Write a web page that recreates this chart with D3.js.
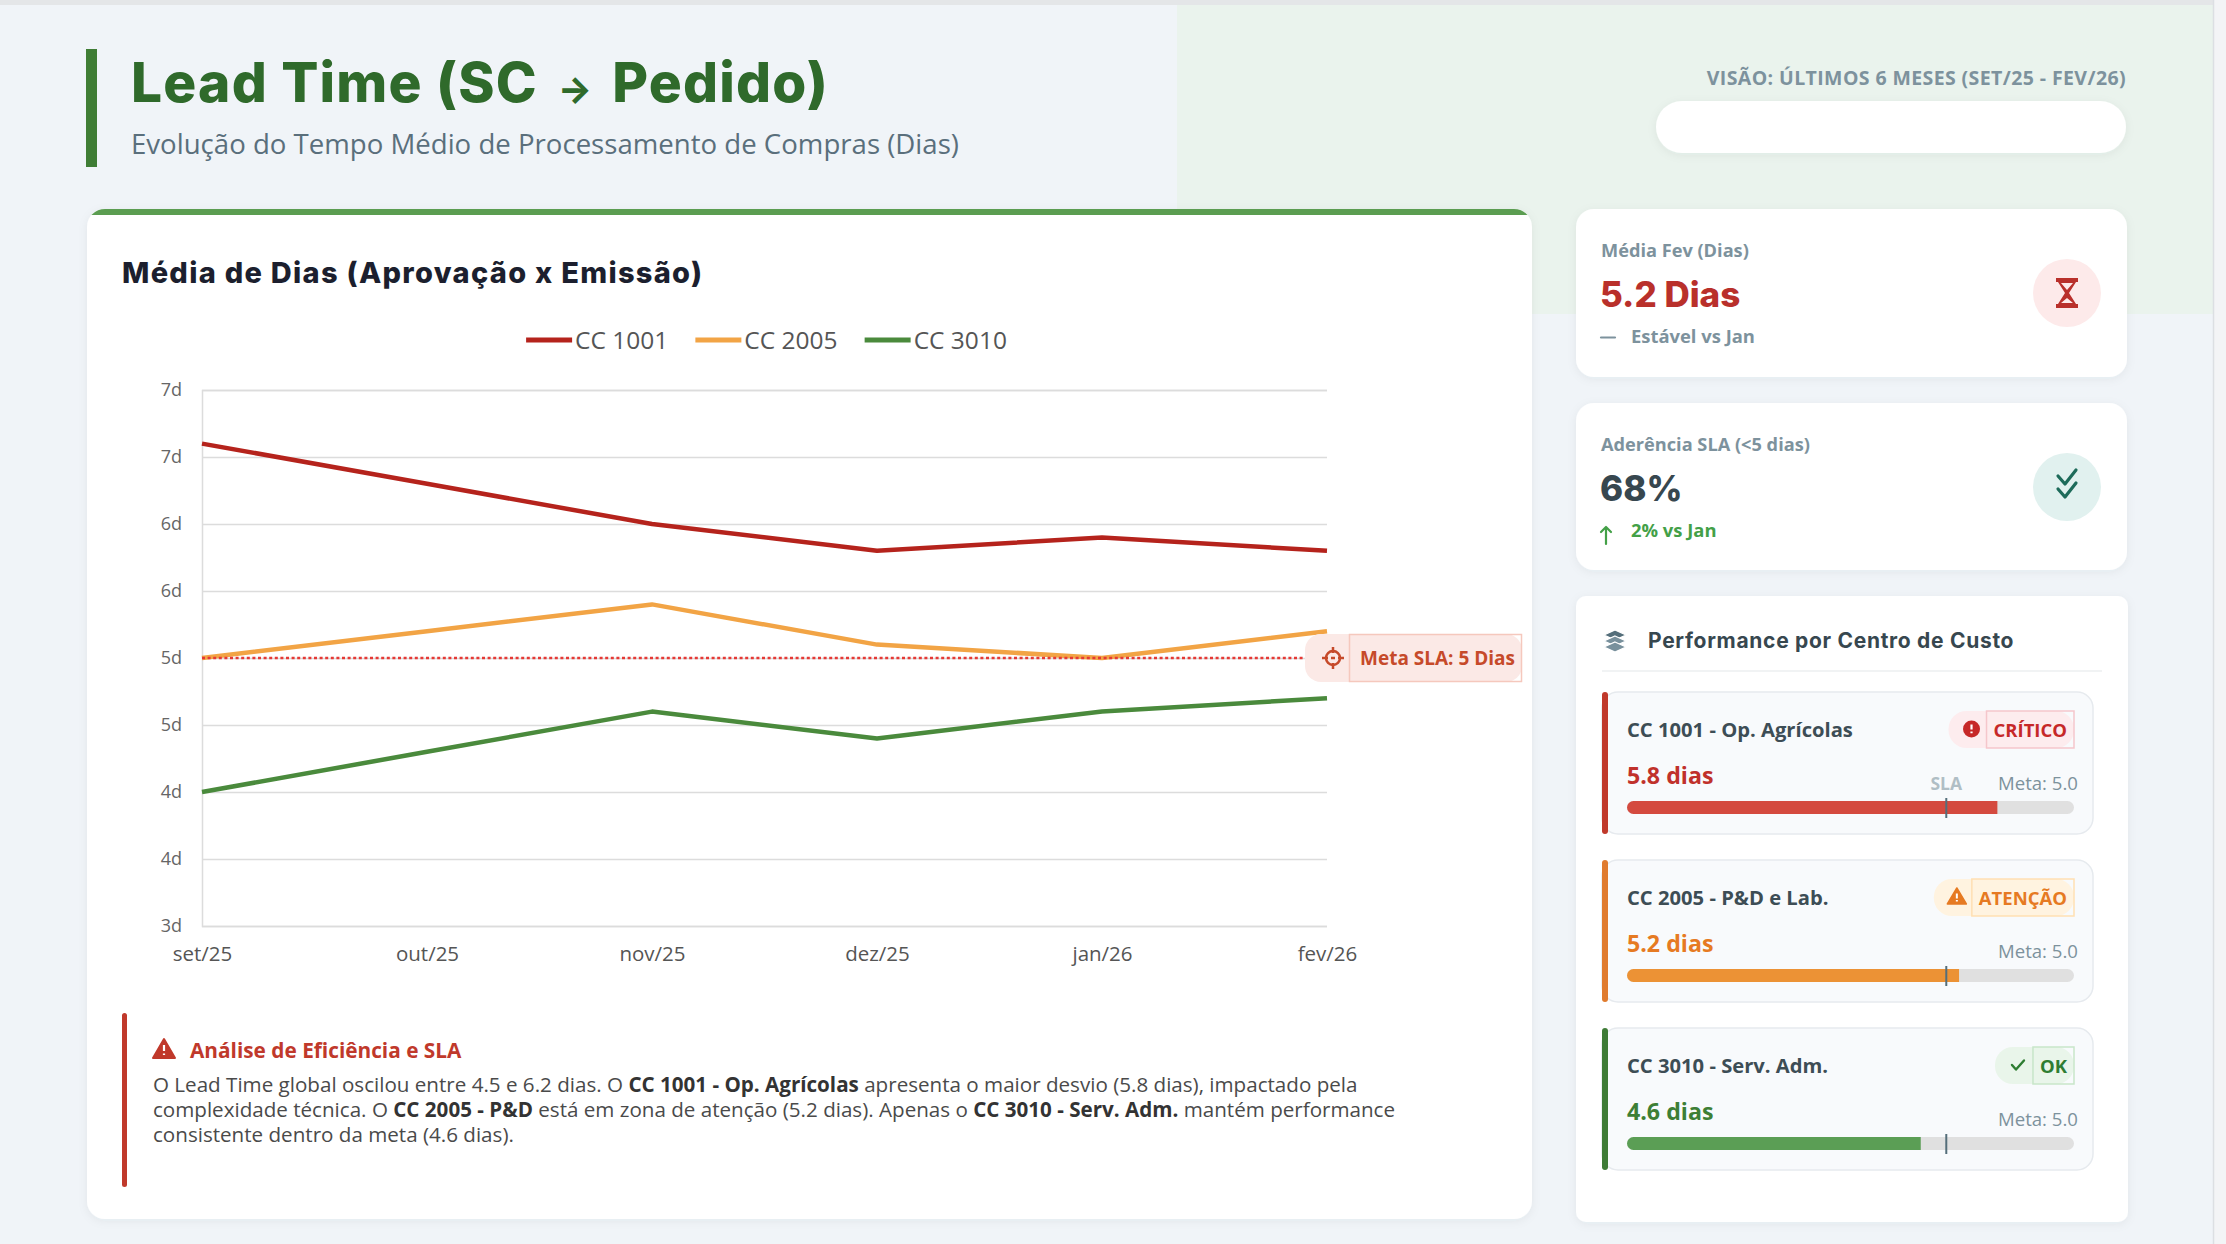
<!DOCTYPE html>
<html>
<head>
<meta charset="utf-8">
<script src="https://cdn.jsdelivr.net/npm/d3@7"></script>
<style>
  html, body { margin: 0; padding: 0; background: #f0f4f8; overflow: hidden; }
  svg { display: block; }
</style>
</head>
<body>
<script>
// --- data ---
var months = ["set/25", "out/25", "nov/25", "dez/25", "jan/26", "fev/26"];
var cc1001 = [6.6, 6.3, 6.0, 5.8, 5.9, 5.8];
var cc2005 = [5.0, 5.2, 5.4, 5.1, 5.0, 5.2];
var cc3010 = [4.0, 4.3, 4.6, 4.4, 4.6, 4.7];
var seriesNames = ["CC 1001", "CC 2005", "CC 3010"];
var yTicks = [3, 3.5, 4, 4.5, 5, 5.5, 6, 6.5, 7];
var slaMeta = 5;

var centerNames = ["CC 1001 - Op. Agrícolas", "CC 2005 - P&D e Lab.", "CC 3010 - Serv. Adm."];
var centerValues = [5.8, 5.2, 4.6];
var centerStatus = ["CRÍTICO", "ATENÇÃO", "OK"];
var barMax = 7;

var W = 2226, H = 1244;
var sans = "'Open Sans', 'Noto Sans', sans-serif";
var head = "Inter, 'Noto Sans', sans-serif";

var svg = d3.select("body").append("svg")
    .attr("width", W)
    .attr("height", H);

var defs = svg.append("defs");
var sh = defs.append("filter").attr("id", "shadow")
    .attr("x", "-10%").attr("y", "-10%").attr("width", "120%").attr("height", "130%");
sh.append("feDropShadow")
    .attr("dx", 0).attr("dy", 2).attr("stdDeviation", 5)
    .attr("flood-color", "#1e3a4a").attr("flood-opacity", 0.06);

// --- page background ---
svg.append("rect").attr("width", W).attr("height", H).attr("fill", "#f0f4f8");
svg.append("path")
    .attr("d", "M1177,5 H2213 V314 H1257 A80,80 0 0 1 1177,234 Z")
    .attr("fill", "#eaf3ed");
svg.append("rect").attr("width", W).attr("height", 5).attr("fill", "#e4e6e8");
svg.append("rect").attr("x", 2213).attr("y", 0).attr("width", 13).attr("height", H).attr("fill", "#f3f4f6");
svg.append("line").attr("x1", 2213.5).attr("x2", 2213.5).attr("y1", 0).attr("y2", H)
    .attr("stroke", "#dcdfe3").attr("stroke-width", 1.5);

// --- header ---
svg.append("rect").attr("x", 86).attr("y", 49).attr("width", 11).attr("height", 118).attr("fill", "#3f7d35");
var title = svg.append("text").attr("x", 131).attr("y", 102)
    .style("font-family", head).style("font-weight", 800).style("font-size", "55px")
    .style("letter-spacing", "1.2px")
    .attr("fill", "#2f6a2b");
title.append("tspan").text("Lead Time (SC");
title.append("tspan").attr("dx", 20).style("font-size", "36px").style("letter-spacing", "0px").text("→");
title.append("tspan").attr("dx", 20).text("Pedido)");
svg.append("text").attr("x", 131).attr("y", 154)
    .style("font-family", sans).style("font-size", "27.6px")
    .attr("fill", "#5a6f7c").text("Evolução do Tempo Médio de Processamento de Compras (Dias)");

svg.append("text").attr("x", 2126).attr("y", 85).attr("text-anchor", "end")
    .style("font-family", sans).style("font-weight", 700).style("font-size", "19.5px")
    .style("letter-spacing", "0.4px")
    .attr("fill", "#7d929d").text("VISÃO: ÚLTIMOS 6 MESES (SET/25 - FEV/26)");
svg.append("rect").attr("x", 1656).attr("y", 101).attr("width", 470).attr("height", 52).attr("rx", 26)
    .attr("fill", "#fff").attr("filter", "url(#shadow)");

// --- main chart card ---
var card = { x: 87, y: 209, w: 1445, h: 1010 };
defs.append("clipPath").attr("id", "cardClip").append("rect")
    .attr("x", card.x).attr("y", card.y).attr("width", card.w).attr("height", card.h).attr("rx", 18);
svg.append("rect").attr("x", card.x).attr("y", card.y).attr("width", card.w).attr("height", card.h)
    .attr("rx", 18).attr("fill", "#fff").attr("filter", "url(#shadow)");
svg.append("rect").attr("x", card.x).attr("y", card.y).attr("width", card.w).attr("height", 6)
    .attr("fill", "#5b9d51").attr("clip-path", "url(#cardClip)");

svg.append("text").attr("x", 122).attr("y", 283)
    .style("font-family", head).style("font-weight", 800).style("font-size", "29px")
    .style("letter-spacing", "1.3px")
    .attr("fill", "#1c1f2e").text("Média de Dias (Aprovação x Emissão)");

// scales
var plot = { left: 202, right: 1327, top: 390, bottom: 926 };
var x = d3.scalePoint().domain(months).range([plot.left, plot.right]);
var y = d3.scaleLinear().domain([3, 7]).range([plot.bottom, plot.top]);

var yAxis = svg.append("g")
    .attr("transform", "translate(" + plot.left + ",0)")
    .call(d3.axisLeft(y).tickValues(yTicks).tickSize(-(plot.right - plot.left)).tickPadding(20)
      .tickFormat(function(d) { return d.toFixed(0) + "d"; }));
yAxis.select(".domain").attr("stroke", "#dcdcdc").attr("stroke-width", 1.5);
yAxis.selectAll(".tick line").attr("stroke", "#dcdcdc").attr("stroke-width", 1.5);
yAxis.selectAll(".tick text")
    .style("font-family", sans).style("font-size", "18px").attr("fill", "#666");

var xAxis = svg.append("g")
    .attr("transform", "translate(0," + plot.bottom + ")")
    .call(d3.axisBottom(x).tickSize(0).tickPadding(20));
xAxis.select(".domain").remove();
xAxis.selectAll(".tick text")
    .style("font-family", sans).style("font-size", "20.5px").attr("fill", "#555");

var series = [
  { name: seriesNames[0], values: cc1001, color: "#b5231c" },
  { name: seriesNames[1], values: cc2005, color: "#f2a445" },
  { name: seriesNames[2], values: cc3010, color: "#4a8a3c" }
];

var line = d3.line()
    .x(function(d, i) { return x(months[i]); })
    .y(function(d) { return y(d); });

svg.append("g").selectAll("path")
  .data(series)
  .enter()
  .append("path")
    .attr("d", function(d) { return line(d.values); })
    .attr("fill", "none")
    .attr("stroke", function(d) { return d.color; })
    .attr("stroke-width", 4.5)
    .attr("stroke-linejoin", "round");

// SLA target line + label
svg.append("line")
    .attr("x1", plot.left).attr("x2", plot.right)
    .attr("y1", y(slaMeta)).attr("y2", y(slaMeta))
    .attr("stroke", "#e53935").attr("stroke-width", 2.5).attr("stroke-dasharray", "3,2.6");

var slaY = y(slaMeta);
var slaG = svg.append("g");
slaG.append("rect").attr("x", 1305).attr("y", slaY - 24).attr("width", 217).attr("height", 48)
    .attr("rx", 16).attr("fill", "#fbe9e6");
slaG.append("rect").attr("x", 1349.5).attr("y", slaY - 23.5).attr("width", 172).attr("height", 47)
    .attr("fill", "none").attr("stroke", "#f5c8bd").attr("stroke-width", 1.5);
slaG.append("circle").attr("cx", 1333).attr("cy", slaY).attr("r", 7)
    .attr("fill", "none").attr("stroke", "#c64a2a").attr("stroke-width", 2.5);
slaG.append("path")
    .attr("d", "M1333," + (slaY - 11) + "v6M1333," + (slaY + 5) + "v6M1322," + slaY + "h6M1338," + slaY + "h6M1331," + slaY + "h4")
    .attr("stroke", "#c64a2a").attr("stroke-width", 2.5);
slaG.append("text").attr("x", 1360).attr("y", slaY + 7)
    .style("font-family", sans).style("font-weight", 700).style("font-size", "19px")
    .attr("fill", "#c64a2a").text("Meta SLA: 5 Dias");

// legend
var legend = svg.append("g");
var lx = 0;
series.forEach(function(s) {
  var item = legend.append("g").attr("transform", "translate(" + lx + ",0)");
  item.append("line").attr("x1", 0).attr("x2", 46).attr("y1", 0).attr("y2", 0)
      .attr("stroke", s.color).attr("stroke-width", 5);
  var t = item.append("text").attr("x", 49).attr("y", 8.5)
      .style("font-family", sans).style("font-size", "24.5px").attr("fill", "#555").text(s.name);
  lx += 49 + t.node().getComputedTextLength() + 27;
});
lx -= 27;
legend.attr("transform", "translate(" + ((plot.left + plot.right) / 2 - lx / 2 + 2) + ",340)");

// analysis note
svg.append("rect").attr("x", 122).attr("y", 1013).attr("width", 5).attr("height", 174).attr("rx", 2.5)
    .attr("fill", "#c0392b");
svg.append("path").attr("d", "M164,1039 L175,1058 L153,1058 Z").attr("fill", "#c0392b")
    .attr("stroke", "#c0392b").attr("stroke-width", 2).attr("stroke-linejoin", "round");
svg.append("path").attr("d", "M164,1045 v6 M164,1053.5 v1.5").attr("stroke", "#fff").attr("stroke-width", 2.2);
svg.append("text").attr("x", 190).attr("y", 1058)
    .style("font-family", sans).style("font-weight", 700).style("font-size", "20.8px")
    .attr("fill", "#c0392b").text("Análise de Eficiência e SLA");

var noteLines = [
  [["O Lead Time global oscilou entre 4.5 e 6.2 dias. O ", 0], ["CC 1001 - Op. Agrícolas", 1], [" apresenta o maior desvio (5.8 dias), impactado pela", 0]],
  [["complexidade técnica. O ", 0], ["CC 2005 - P&D", 1], [" está em zona de atenção (5.2 dias). Apenas o ", 0], ["CC 3010 - Serv. Adm.", 1], [" mantém performance", 0]],
  [["consistente dentro da meta (4.6 dias).", 0]]
];
noteLines.forEach(function(parts, i) {
  var t = svg.append("text").attr("x", 153).attr("y", 1092 + i * 24.8)
      .style("font-family", sans).style("font-size", "20.6px").attr("fill", "#4a4a4a")
      .attr("xml:space", "preserve");
  parts.forEach(function(p) {
    t.append("tspan").style("font-weight", p[1] ? 700 : 400).attr("fill", p[1] ? "#333" : "#4a4a4a").text(p[0]);
  });
});

// --- KPI cards ---
function kpiCard(top, h, label, value, valueColor, deltaIcon, delta, deltaColor, iconBg) {
  svg.append("rect").attr("x", 1576).attr("y", top).attr("width", 551).attr("height", h)
      .attr("rx", 18).attr("fill", "#fff").attr("filter", "url(#shadow)");
  svg.append("text").attr("x", 1601).attr("y", top + 48)
      .style("font-family", sans).style("font-weight", 700).style("font-size", "18.2px")
      .attr("fill", "#7d929d").text(label);
  svg.append("text").attr("x", 1600).attr("y", top + 98)
      .style("font-family", head).style("font-weight", 800).style("font-size", "35px")
      .attr("fill", valueColor).text(value);
  svg.append("path").attr("d", deltaIcon).attr("fill", "none").attr("stroke", deltaColor)
      .attr("stroke-width", 2.2).attr("stroke-linecap", "round").attr("stroke-linejoin", "round");
  svg.append("text").attr("x", 1631).attr("y", top + 134)
      .style("font-family", sans).style("font-weight", 700).style("font-size", "18.4px")
      .attr("fill", deltaColor).text(delta);
  svg.append("circle").attr("cx", 2067).attr("cy", top + 84).attr("r", 34).attr("fill", iconBg);
}

kpiCard(209, 168, "Média Fev (Dias)", "5.2 Dias", "#b9302b",
    "M1601,337.5 H1615", "Estável vs Jan", "#7d929d", "#fdeaea");
svg.append("path")
    .attr("d", "M2056,278 H2078 V282 H2076 L2069,293 L2076,304 H2078 V308 H2056 V304 H2058 L2065,293 L2058,282 H2056 Z")
    .attr("fill", "#b9302b");
svg.append("path").attr("d", "M2061,283 H2073 L2067,290 Z M2067,298 L2073,303 H2061 Z").attr("fill", "#fdeaea");

kpiCard(403, 167, "Aderência SLA (<5 dias)", "68%", "#37474f",
    "M1606,544 V527 M1601,532 L1606,527 L1611,532", "2% vs Jan", "#43a047", "#e1f1ef");
svg.append("path")
    .attr("d", "M2058,476 L2065,484 L2076,470 M2058,489 L2065,497 L2076,483")
    .attr("fill", "none").attr("stroke", "#1d6b5a").attr("stroke-width", 3.2)
    .attr("stroke-linecap", "round").attr("stroke-linejoin", "round");

// --- performance por centro de custo ---
svg.append("rect").attr("x", 1576).attr("y", 596).attr("width", 552).attr("height", 626)
    .attr("rx", 10).attr("fill", "#fff").attr("filter", "url(#shadow)");
[0, 6, 12].forEach(function(o, i) {
  svg.append("path")
      .attr("d", "M1615," + (630 + o) + " l11,5 l-11,5 l-11,-5 Z")
      .attr("fill", i === 0 ? "#546e7a" : "#78909c").attr("stroke", "#fff").attr("stroke-width", 1.2);
});
svg.append("text").attr("x", 1648).attr("y", 648)
    .style("font-family", head).style("font-weight", 700).style("font-size", "21px")
    .style("letter-spacing", "0.7px")
    .attr("fill", "#37474f").text("Performance por Centro de Custo");
svg.append("line").attr("x1", 1602).attr("x2", 2102).attr("y1", 671).attr("y2", 671)
    .attr("stroke", "#eceff1").attr("stroke-width", 1.5);

var bx = d3.scaleLinear().domain([0, barMax]).range([1627, 2074]);
var styles = [
  { edge: "#c0392b", value: "#c0312b", fill: "#d44a3f", badgeBg: "#fdecee", badgeLine: "#f5c6cb", badge: "#c62828" },
  { edge: "#e07b2e", value: "#e67a22", fill: "#ec9235", badgeBg: "#fff3e0", badgeLine: "#ffe0b2", badge: "#e67a22" },
  { edge: "#3e7b36", value: "#3d7f35", fill: "#5b9e55", badgeBg: "#e9f5ea", badgeLine: "#c8e6c9", badge: "#2e7d32" }
];

centerNames.forEach(function(name, i) {
  var top = 692 + i * 168;
  var st = styles[i];
  var g = svg.append("g");
  g.append("rect").attr("x", 1602).attr("y", top).attr("width", 491).attr("height", 142)
      .attr("rx", 16).attr("fill", "#f8fafc").attr("stroke", "#e6eaee").attr("stroke-width", 1.5);
  g.append("rect").attr("x", 1602).attr("y", top).attr("width", 6).attr("height", 142)
      .attr("rx", 3).attr("fill", st.edge);
  g.append("text").attr("x", 1627).attr("y", top + 45)
      .style("font-family", sans).style("font-weight", 700).style("font-size", "20.2px")
      .attr("fill", "#3d4d55").text(name);

  // badge
  var bt = g.append("text").attr("x", 2067).attr("y", top + 45).attr("text-anchor", "end")
      .style("font-family", sans).style("font-weight", 700).style("font-size", "18.5px")
      .attr("fill", st.badge).text(centerStatus[i]);
  var tw = bt.node().getComputedTextLength();
  var innerX = 2074 - tw - 14;
  var pillX = innerX - 38;
  g.insert("rect", "text:last-child").attr("x", pillX).attr("y", top + 19).attr("width", 2074 - pillX).attr("height", 37)
      .attr("rx", 18).attr("fill", st.badgeBg);
  g.insert("rect", "text:last-child").attr("x", innerX).attr("y", top + 19).attr("width", 2074 - innerX).attr("height", 37)
      .attr("fill", "none").attr("stroke", st.badgeLine).attr("stroke-width", 1.5);
  var ix = pillX + 23, iy = top + 37;
  if (i === 0) {
    g.append("circle").attr("cx", ix).attr("cy", iy).attr("r", 8.5).attr("fill", st.badge);
    g.append("path").attr("d", "M" + ix + "," + (iy - 4.5) + "v5 M" + ix + "," + (iy + 2.5) + "v1.8")
        .attr("stroke", "#fff").attr("stroke-width", 2.2);
  } else if (i === 1) {
    g.append("path").attr("d", "M" + ix + "," + (iy - 9) + " l9.5,16 h-19 Z").attr("fill", st.badge)
        .attr("stroke", st.badge).attr("stroke-width", 1.5).attr("stroke-linejoin", "round");
    g.append("path").attr("d", "M" + ix + "," + (iy - 3.5) + "v5 M" + ix + "," + (iy + 3) + "v1.6")
        .attr("stroke", "#fff").attr("stroke-width", 2);
  } else {
    g.append("path").attr("d", "M" + (ix - 6) + "," + iy + " l4,4.5 l8,-9")
        .attr("fill", "none").attr("stroke", st.badge).attr("stroke-width", 2.4)
        .attr("stroke-linecap", "round").attr("stroke-linejoin", "round");
  }

  g.append("text").attr("x", 1627).attr("y", top + 92)
      .style("font-family", sans).style("font-weight", 700).style("font-size", "23.2px")
      .attr("fill", st.value).text(centerValues[i].toFixed(1) + " dias");
  g.append("text").attr("x", 2078).attr("y", top + 98).attr("text-anchor", "end")
      .style("font-family", sans).style("font-size", "18.6px")
      .attr("fill", "#7d929d").text("Meta: " + slaMeta.toFixed(1));
  if (i === 0) {
    g.append("text").attr("x", bx(slaMeta)).attr("y", top + 98).attr("text-anchor", "middle")
        .style("font-family", sans).style("font-weight", 700).style("font-size", "17.5px")
        .attr("fill", "#b0bec5").text("SLA");
  }

  var clipId = "track" + i;
  defs.append("clipPath").attr("id", clipId).append("rect")
      .attr("x", bx(0)).attr("y", top + 109).attr("width", bx(barMax) - bx(0)).attr("height", 13).attr("rx", 6.5);
  g.append("rect").attr("x", bx(0)).attr("y", top + 109).attr("width", bx(barMax) - bx(0)).attr("height", 13)
      .attr("rx", 6.5).attr("fill", "#e0e0e0");
  g.append("rect").attr("x", bx(0)).attr("y", top + 109).attr("width", bx(centerValues[i]) - bx(0)).attr("height", 13)
      .attr("fill", st.fill).attr("clip-path", "url(#" + clipId + ")");
  g.append("line").attr("x1", bx(slaMeta)).attr("x2", bx(slaMeta)).attr("y1", top + 106).attr("y2", top + 126)
      .attr("stroke", "#546e7a").attr("stroke-width", 2);
});
</script>
</body>
</html>
